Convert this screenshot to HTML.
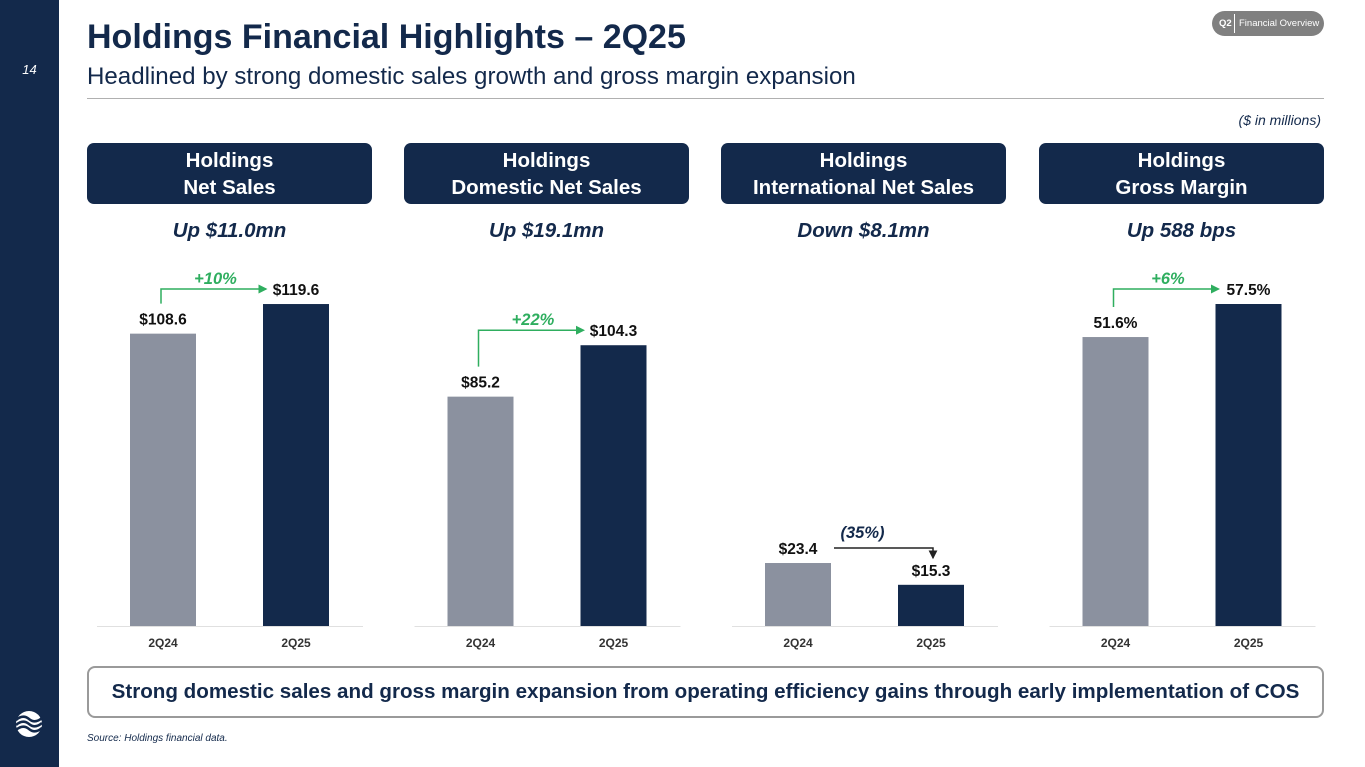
<!DOCTYPE html>
<html><head><meta charset="utf-8"><style>
*{margin:0;padding:0;box-sizing:border-box}
body{width:1365px;height:767px;position:relative;background:#fff;font-family:"Liberation Sans",Arial,sans-serif;overflow:hidden}
.abs{position:absolute}
.hdr{position:absolute;top:143px;width:285px;height:61px;background:#13294b;border-radius:7px;color:#fff;font-weight:bold;font-size:20.5px;text-align:center;line-height:27px;padding-top:4px;white-space:nowrap}
.sub{position:absolute;top:219px;width:285px;text-align:center;font-weight:bold;font-style:italic;font-size:20.5px;color:#13294b}
</style></head><body>
<div class="abs" style="left:0;top:0;width:59px;height:767px;background:#13294b"></div>
<div class="abs" style="left:0;top:62px;width:59px;text-align:center;color:#fff;font-size:13px;font-style:italic">14</div>
<svg class="abs" style="left:14px;top:709px" width="30" height="30" viewBox="0 0 30 30">
<circle cx="15" cy="15" r="13" fill="#fff"/>
<path d="M2 11 Q9 5 15 10 Q21 15 28 9" stroke="#13294b" stroke-width="2.5" fill="none"/>
<path d="M2 16 Q9 10 15 15 Q21 20 28 14" stroke="#13294b" stroke-width="2.5" fill="none"/>
<path d="M2 21 Q9 15 15 20 Q21 25 28 19" stroke="#13294b" stroke-width="2.5" fill="none"/>
</svg>
<div class="abs" style="left:87px;top:18px;font-size:34px;font-weight:bold;color:#13294b;white-space:nowrap">Holdings Financial Highlights – 2Q25</div>
<div class="abs" style="left:87px;top:63px;font-size:24.1px;color:#13294b;white-space:nowrap">Headlined by strong domestic sales growth and gross margin expansion</div>
<div class="abs" style="left:87px;top:98px;width:1237px;height:1px;background:#b0b0b0"></div>
<div class="abs" style="left:1212px;top:11px;width:112px;height:25px;border-radius:13px;background:#808080;color:#fff;font-size:9.5px;line-height:25px;white-space:nowrap">
<span style="position:absolute;left:7px;font-weight:bold">Q2</span><span style="position:absolute;left:22px;top:3px;width:1px;height:19px;background:#fff"></span><span style="position:absolute;left:27px;white-space:nowrap">Financial Overview</span></div>
<div class="abs" style="right:44px;top:112px;font-size:14px;font-style:italic;color:#13294b">($ in millions)</div>

<div class="hdr" style="left:87px">Holdings<br>Net Sales</div>
<div class="hdr" style="left:404px">Holdings<br>Domestic Net Sales</div>
<div class="hdr" style="left:721px">Holdings<br>International Net Sales</div>
<div class="hdr" style="left:1039px">Holdings<br>Gross Margin</div>
<div class="sub" style="left:87px">Up $11.0mn</div>
<div class="sub" style="left:404px">Up $19.1mn</div>
<div class="sub" style="left:721px">Down $8.1mn</div>
<div class="sub" style="left:1039px">Up 588 bps</div>

<svg id="chart" class="abs" style="left:0;top:0" width="1365" height="767"></svg>

<div class="abs" style="left:87px;top:666px;width:1237px;height:52px;border:2px solid #9a9a9a;border-radius:8px;text-align:center;line-height:48px;font-size:20.6px;font-weight:bold;color:#13294b;white-space:nowrap">Strong domestic sales and gross margin expansion from operating efficiency gains through early implementation of COS</div>
<div class="abs" style="left:87px;top:733px;font-size:10px;font-style:italic;color:#13294b">Source: Holdings financial data.</div>

<script>
const categories=["2Q24","2Q25"];
const netSales=[108.6,119.6];
const domestic=[85.2,104.3];
const intl=[23.4,15.3];
const margin=[51.6,57.5];
const valueLabels=[["$108.6","$119.6"],["$85.2","$104.3"],["$23.4","$15.3"],["51.6%","57.5%"]];
const changeLabels=["+10%","+22%","(35%)","+6%"];
const series=[netSales,domestic,intl,margin];
const scales=[2.692,2.692,2.692,5.6];
const NS="http://www.w3.org/2000/svg";
const svg=document.getElementById('chart');
const base=626;
function mk(t,a){const e=document.createElementNS(NS,t);for(const k in a)e.setAttribute(k,a[k]);svg.appendChild(e);return e;}
function y(v,p){return base-v*scales[p];}
const defs=mk('defs',{});
defs.innerHTML='<marker id="ag" markerWidth="6" markerHeight="6" refX="5" refY="3" orient="auto"><path d="M0,0L6,3L0,6z" fill="#2fae5f"/></marker><marker id="ak" markerWidth="6" markerHeight="6" refX="5" refY="3" orient="auto"><path d="M0,0L6,3L0,6z" fill="#222"/></marker>';
series.forEach((vals,p)=>{
  const off=p*317.5;
  const ax=mk('line',{x1:97+off,x2:363+off,y1:base+0.5,y2:base+0.5,stroke:'#e0e0e0','stroke-width':1});
  
  
  const xs=[];
  vals.forEach((v,i)=>{
    const x=130+off+i*133;xs.push(x+33);
    const r=mk('rect',{x:x,y:y(v,p),width:66,height:v*scales[p],fill:i==0?'#8b919f':'#13294b'});
    
    
    const t=mk('text',{x:x+33,y:y(v,p)-9,'text-anchor':'middle','font-size':15.5,'font-weight':'bold',fill:'#111'});
    t.textContent=valueLabels[p][i];
    
    
    const c=mk('text',{x:x+33,y:647,'text-anchor':'middle','font-size':12,'font-weight':'bold',fill:'#333'});
    c.textContent=categories[i];
    
    
  });
  const up=vals[1]>=vals[0];
  let path,lx,ly,col;
  if(up){
    const top=y(vals[1],p)-15, start=y(vals[0],p)-30;
    path=`M${xs[0]-2},${start}V${top}H${xs[1]-30}`;col='#2fae5f';
    lx=(xs[0]+xs[1])/2-14;ly=top-5;
  }else{
    const hy=y(vals[0],p)-15;
    path=`M${xs[0]+36},${hy}H${xs[1]+2}V${y(vals[1],p)-27}`;col='#222';
    lx=(xs[0]+xs[1])/2-2;ly=hy-10;
  }
  const a=mk('path',{d:path,fill:'none',stroke:col,'stroke-width':1.5,'marker-end':up?'url(#ag)':'url(#ak)'});
  
  
  const lt=mk('text',{x:lx,y:ly,'text-anchor':'middle','font-size':16.5,'font-weight':'bold','font-style':'italic',fill:up?'#2fae5f':'#13294b'});
  lt.textContent=changeLabels[p];
  
  
});
</script>
</body></html>
